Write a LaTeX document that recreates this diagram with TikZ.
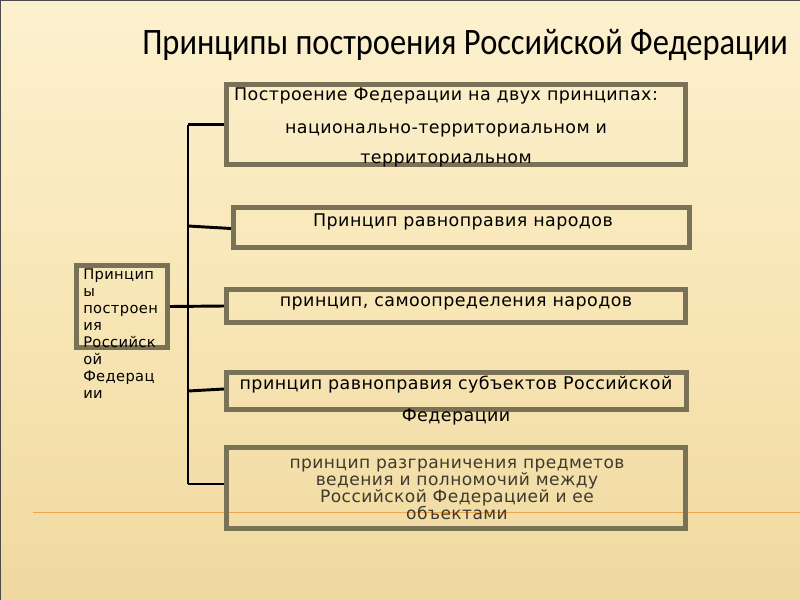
\documentclass[tikz,border=0pt]{standalone}
\usepackage{fontspec}
\setmainfont{DejaVu Sans}
\newfontfamily\boxfont[LetterSpace=2.5]{DejaVu Sans}
\newfontfamily\titlefont{Carlito}
\begin{document}
\begin{tikzpicture}[x=0.75pt,y=-0.75pt,
  frame/.style 2 args={draw=boxgray,line width=3.75pt,minimum width=#1,minimum height=#2,inner sep=0pt},
  link/.style={draw=black,line width=2.2pt},
  btext/.style={font=\boxfont\fontsize{13.1pt}{16pt}\selectfont,inner sep=0pt,anchor=center},
]
\definecolor{boxgray}{HTML}{7A7257}
\definecolor{bgtop}{HTML}{FCF1CF}
\definecolor{bgmid}{HTML}{F8E6B6}
\definecolor{bgbot}{HTML}{F0D9A0}
\definecolor{txtgray}{HTML}{3E3A2E}
\useasboundingbox (0,0) rectangle (800,600);
\shade[top color=bgtop,bottom color=bgbot,middle color=bgmid] (0,0) rectangle (800,600);
\draw[black!70,line width=0.6pt] (0,600) -- (0,0) -- (800,0);
\draw[orange!70!brown,line width=0.5pt,opacity=0.6] (33,512) -- (800,512);
% title
\node[font=\titlefont\fontsize{28pt}{32pt}\selectfont,inner sep=0pt] (title) at (465,45) {\scalebox{0.87}[1]{Принципы построения Российской Федерации}};
% boxes
\node[frame={344.25pt}{60pt}] (b1) at (456,124.5) {};
\node[frame={342pt}{30pt}] (b2) at (461.5,227.5) {};
\node[frame={344.25pt}{24.75pt}] (b3) at (456,306) {};
\node[frame={345pt}{27.75pt}] (b4) at (456.5,391) {};
\node[frame={344.25pt}{60.75pt}] (b5) at (456,488) {};
\node[frame={68.25pt}{61.5pt}] (lb) at (122,306.5) {};
% texts
\node[btext] (t1a) at (446,96) {Построение Федерации на двух принципах:};
\node[btext] (t1b) at (446,130) {национально-территориальном и};
\node[btext] (t1c) at (446,160) {территориальном};
\node[btext] (t2) at (463,222) {Принцип равноправия народов};
\node[btext] (t3) at (456,303) {принцип, самоопределения народов};
\node[btext] (t4a) at (456,385) {принцип равноправия субъектов Российской};
\node[btext] (t4b) at (456,417) {Федерации};
\node[btext,text=txtgray,align=center,font=\boxfont\fontsize{12.8pt}{12.75pt}\selectfont] (t5) at (457,489)
  {принцип разграничения предметов\\ведения и полномочий между\\Российской Федерацией и ее\\объектами};
\node[btext,anchor=north west,align=left,font=\boxfont\fontsize{11pt}{12.75pt}\selectfont] (lt) at (83,269)
  {Принцип\\ы\\построен\\ия\\Российск\\ой\\Федерац\\ии};
% connectors
\coordinate (ctop) at (188,124.5);
\coordinate (c2) at (188,226);
\coordinate (c3) at (188,306);
\coordinate (c4) at (188,391);
\coordinate (cbot) at (188,484);
\draw[link] (ctop) -- (cbot);
\draw[link] (ctop) -- (b1.west);
\draw[link] (c2) -- ([yshift=-0.75pt]b2.west);
\draw[link] (lb.east) -- (b3.west);
\draw[link] (c4) -- ([yshift=1.5pt]b4.west);
\draw[link] (cbot) -- (cbot -| b5.west);
\end{tikzpicture}
\end{document}
